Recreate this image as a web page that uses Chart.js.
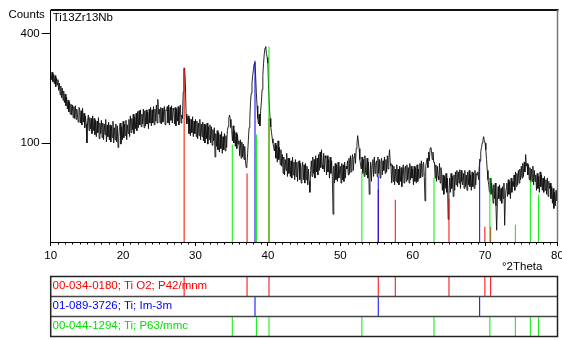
<!DOCTYPE html>
<html><head><meta charset="utf-8">
<script src="https://cdn.jsdelivr.net/npm/chart.js@4/dist/chart.umd.min.js"></script>
<style>
html,body{margin:0;padding:0;background:#fff;}
#wrap{position:relative;width:562px;height:340px;overflow:hidden;background:#fff;}
canvas{position:absolute;left:0;}
.t{position:absolute;font-family:'Liberation Sans',Arial,sans-serif;font-size:11.5px;line-height:13px;white-space:nowrap;color:#000;}
</style></head><body>
<div id="wrap">
<canvas id="main" width="562" height="262" style="top:0px"></canvas>
<canvas id="strip" width="562" height="70" style="top:270px"></canvas>
<div class="t" style="left:8.4px;top:7.8px">Counts</div>
<div class="t" style="left:52.7px;top:11.2px">Ti13Zr13Nb</div>
<div class="t" style="left:502px;top:259.5px">°2Theta</div>
<div class="t" style="left:52.5px;top:278.5px;color:#ff0000">00-034-0180; Ti O2; P42/mnm</div>
<div class="t" style="left:52.5px;top:298.5px;color:#0000ff">01-089-3726; Ti; Im-3m</div>
<div class="t" style="left:52.5px;top:318.5px;color:#00e000">00-044-1294; Ti; P63/mmc</div>
</div>
<script>
// 2Theta sampling of the measured pattern
const thetaStart = 10;
const thetaStep = 0.1;
// measured counts, one row per degree (10.0 ... 79.9), last value at 80.0
const counts = [
275,250,272,244,266,238,262,230,255,235,
250,220,240,208,232,200,226,194,218,188,
210,180,202,172,194,165,190,160,184,158,
182,152,178,150,180,148,172,158,142,176,
172,140,168,136,174,142,162,130,156,138,
100,146,158,124,152,128,150,118,156,124,
150,116,146,112,144,120,152,108,140,118,
146,110,140,106,138,116,148,102,136,112,
142,106,136,102,134,110,144,100,130,106,
138,102,134,92,112,130,140,98,132,106,
144,110,138,114,146,106,136,118,148,112,
156,120,150,126,160,118,154,128,162,124,
166,130,168,136,170,132,160,138,172,130,
168,134,170,138,164,128,172,140,176,134,
170,140,178,136,172,144,182,140,196,160,
172,140,176,138,174,142,166,178,136,170,
168,178,140,182,136,176,146,180,140,174,
170,138,176,134,172,144,178,136,166,182,
140,158,150,215,282,285,240,160,138,150,
156,118,150,114,148,120,154,112,144,118,
148,112,144,108,140,114,148,106,138,112,
142,104,138,100,136,108,140,98,132,106,
136,100,132,96,126,104,130,76,118,94,
124,88,120,84,116,90,122,82,112,88,
118,86,114,92,124,132,150,158,148,130,
126,104,134,100,124,94,120,90,116,98,
104,78,106,74,102,76,98,72,94,70,
60,64,82,105,130,150,190,212,240,262,
280,298,302,265,215,180,150,138,160,134,
168,190,222,262,300,330,350,355,332,318,
300,220,180,150,132,120,108,100,92,86,
100,74,96,68,104,72,92,64,88,62,
80,52,76,50,72,56,82,48,74,52,
74,48,70,46,76,50,68,44,72,48,
68,42,64,70,44,66,40,60,68,44,
64,40,66,44,62,38,58,42,30,56,
70,48,76,52,72,46,78,54,74,50,
80,56,84,60,88,64,58,82,54,78,
74,50,78,54,72,46,76,52,70,48,
12,62,40,66,44,64,42,68,46,56,
62,40,66,44,64,42,68,46,62,58,
70,50,74,52,78,54,72,80,56,76,
82,66,90,98,114,102,90,72,64,58,
76,52,72,48,78,54,50,74,46,68,
28,46,68,42,64,72,48,76,52,66,
70,48,76,52,72,46,68,74,50,70,
56,76,52,72,54,78,58,74,88,66,
62,40,64,42,62,38,58,42,64,40,
58,38,62,42,60,36,56,64,40,58,
62,42,64,44,60,40,66,44,62,46,
58,38,62,42,60,40,64,42,58,46,
66,46,70,48,64,68,48,22,62,68,
74,60,84,70,90,92,86,72,84,68,
68,46,64,42,62,48,44,66,40,60,
52,32,50,28,48,34,52,30,46,9,
28,46,30,52,34,48,26,50,32,54,
38,56,36,54,40,57,34,56,42,38,
52,34,56,36,50,32,54,38,56,36,
50,32,54,36,52,34,56,38,52,50,
54,44,62,70,85,92,100,106,112,104,
100,88,72,56,44,38,30,46,28,40,
34,20,38,24,40,18,4,22,36,24,
38,22,34,20,36,24,40,6,24,34,
40,26,44,28,42,24,46,30,42,36,
50,32,54,36,52,38,56,40,58,44,
62,46,66,48,68,54,80,62,66,50,
64,44,60,40,58,42,62,38,56,42,
50,32,52,34,48,30,54,36,50,32,
46,30,48,32,44,28,46,26,42,34,
40,24,36,20,34,16,30,18,32,22,
23
];
const xTickLabels = [10, 20, 30, 40, 50, 60, 70, 80];
const yTickLabels = [100, 400];
// reference patterns: peak positions (°2Theta) and stick heights (counts)
const tio2Pos = [28.43, 37.12, 40.15, 55.24, 57.59, 65.01, 69.97, 70.77];
const tio2Int = [286, 52, 150, 33, 23, 24, 5.4, 5.4];
const tiBccPos = [38.22, 55.24, 69.25];
const tiBccInt = [308, 48, 73];
const tiHcpPos = [35.08, 38.41, 40.15, 52.98, 62.94, 70.66, 74.18, 76.25, 77.39];
const tiHcpInt = [97, 116, 355, 54, 46.5, 46.5, 6.3, 43, 27.6];

const FONT = "'Liberation Sans', Arial, sans-serif";
const RED = '#ff0000', BLUE = '#0000ff', GREEN = '#00ee00';
// square-root intensity axis
const yMin = 0.92, yMax = 22.2;
const sq = v => Math.sqrt(v);

const traceData = counts.map((c, i) => ({x: +(thetaStart + i * thetaStep).toFixed(2), y: sq(c)}));
function sticks(pos, h) {
  const d = [];
  pos.forEach((p, i) => { d.push({x: p, y: yMin}, {x: p, y: sq(h[i])}, {x: p, y: null}); });
  return d;
}
function rowSticks(pos, row) {
  const d = [];
  pos.forEach(p => { d.push({x: p, y: row}, {x: p, y: row + 1}, {x: p, y: null}); });
  return d;
}
function lineDs(data, color, w) {
  return {data, borderColor: color, borderWidth: w || 1, showLine: true, pointRadius: 0, fill: false, tension: 0, spanGaps: false};
}

const mainFrame = {
  id: 'mainFrame',
  afterDraw(chart) {
    const {ctx, chartArea: ca, scales} = chart;
    ctx.save();
    ctx.strokeStyle = '#000';
    ctx.lineWidth = 1;
    for (let v = 11; v < 80; v++) {
      if (v % 10 === 0) continue;
      const x = Math.round(scales.x.getPixelForValue(v)) + 0.5;
      ctx.beginPath(); ctx.moveTo(x, ca.bottom); ctx.lineTo(x, ca.bottom + 2.5); ctx.stroke();
    }
    ctx.strokeStyle = '#111';
    ctx.lineWidth = 2;
    ctx.beginPath(); ctx.moveTo(ca.left, ca.top); ctx.lineTo(ca.right + 1, ca.top); ctx.stroke();
    ctx.strokeStyle = '#777';
    ctx.lineWidth = 1.5;
    ctx.beginPath(); ctx.moveTo(ca.right, ca.top); ctx.lineTo(ca.right, ca.bottom); ctx.stroke();
    ctx.restore();
  }
};

new Chart(document.getElementById('main'), {
  type: 'scatter',
  data: {datasets: [
    lineDs(sticks(tiHcpPos, tiHcpInt), GREEN),
    lineDs(sticks(tiBccPos, tiBccInt), BLUE),
    lineDs(sticks(tio2Pos, tio2Int), RED),
    lineDs(traceData, '#111', 0.9)
  ]},
  options: {
    responsive: false, animation: false, devicePixelRatio: 1,
    layout: {padding: {top: 10, right: 4.5, left: 0, bottom: 0}},
    plugins: {legend: {display: false}, tooltip: {enabled: false}},
    scales: {
      x: {
        type: 'linear', min: 10, max: 80,
        afterBuildTicks: s => { s.ticks = xTickLabels.map(v => ({value: v})); },
        ticks: {color: '#000', font: {family: FONT, size: 11.5}, padding: 3, maxRotation: 0, autoSkip: false},
        grid: {display: true, drawOnChartArea: false, drawTicks: true, tickLength: 4, color: '#000'},
        border: {display: true, color: '#000', width: 1},
        afterFit: s => { s.height = 20; s.paddingLeft = 0; s.paddingRight = 0; }
      },
      y: {
        type: 'linear', min: yMin, max: yMax,
        afterBuildTicks: s => { s.ticks = yTickLabels.map(v => ({value: Math.sqrt(v)})); },
        ticks: {color: '#000', font: {family: FONT, size: 11.5}, padding: 2, callback: (v, i) => String(yTickLabels[i])},
        grid: {display: true, drawOnChartArea: false, drawTicks: true, tickLength: 9, color: '#000'},
        border: {display: true, color: '#000', width: 1},
        afterFit: s => { s.width = 50.7; s.paddingTop = 0; s.paddingBottom = 0; }
      }
    }
  },
  plugins: [mainFrame]
});

const stripFrame = {
  id: 'stripFrame',
  afterDraw(chart) {
    const {ctx, chartArea: ca, scales} = chart;
    ctx.save();
    ctx.strokeStyle = '#444';
    ctx.lineWidth = 1.5;
    [1, 2].forEach(v => {
      const y = scales.y.getPixelForValue(v);
      ctx.beginPath(); ctx.moveTo(ca.left, y); ctx.lineTo(ca.right, y); ctx.stroke();
    });
    ctx.strokeStyle = '#222';
    ctx.strokeRect(ca.left, ca.top, ca.right - ca.left, ca.bottom - ca.top);
    ctx.restore();
  }
};

new Chart(document.getElementById('strip'), {
  type: 'scatter',
  data: {datasets: [
    lineDs(rowSticks(tio2Pos, 2), RED),
    lineDs(rowSticks(tiBccPos, 1), BLUE),
    lineDs(rowSticks(tiHcpPos, 0), GREEN)
  ]},
  options: {
    responsive: false, animation: false, devicePixelRatio: 1,
    layout: {padding: {left: 50.7, right: 4.5, top: 6.5, bottom: 3.5}},
    plugins: {legend: {display: false}, tooltip: {enabled: false}},
    scales: {
      x: {type: 'linear', min: 10, max: 80, display: false},
      y: {type: 'linear', min: 0, max: 3, display: false}
    }
  },
  plugins: [stripFrame]
});
</script>
</body></html>
